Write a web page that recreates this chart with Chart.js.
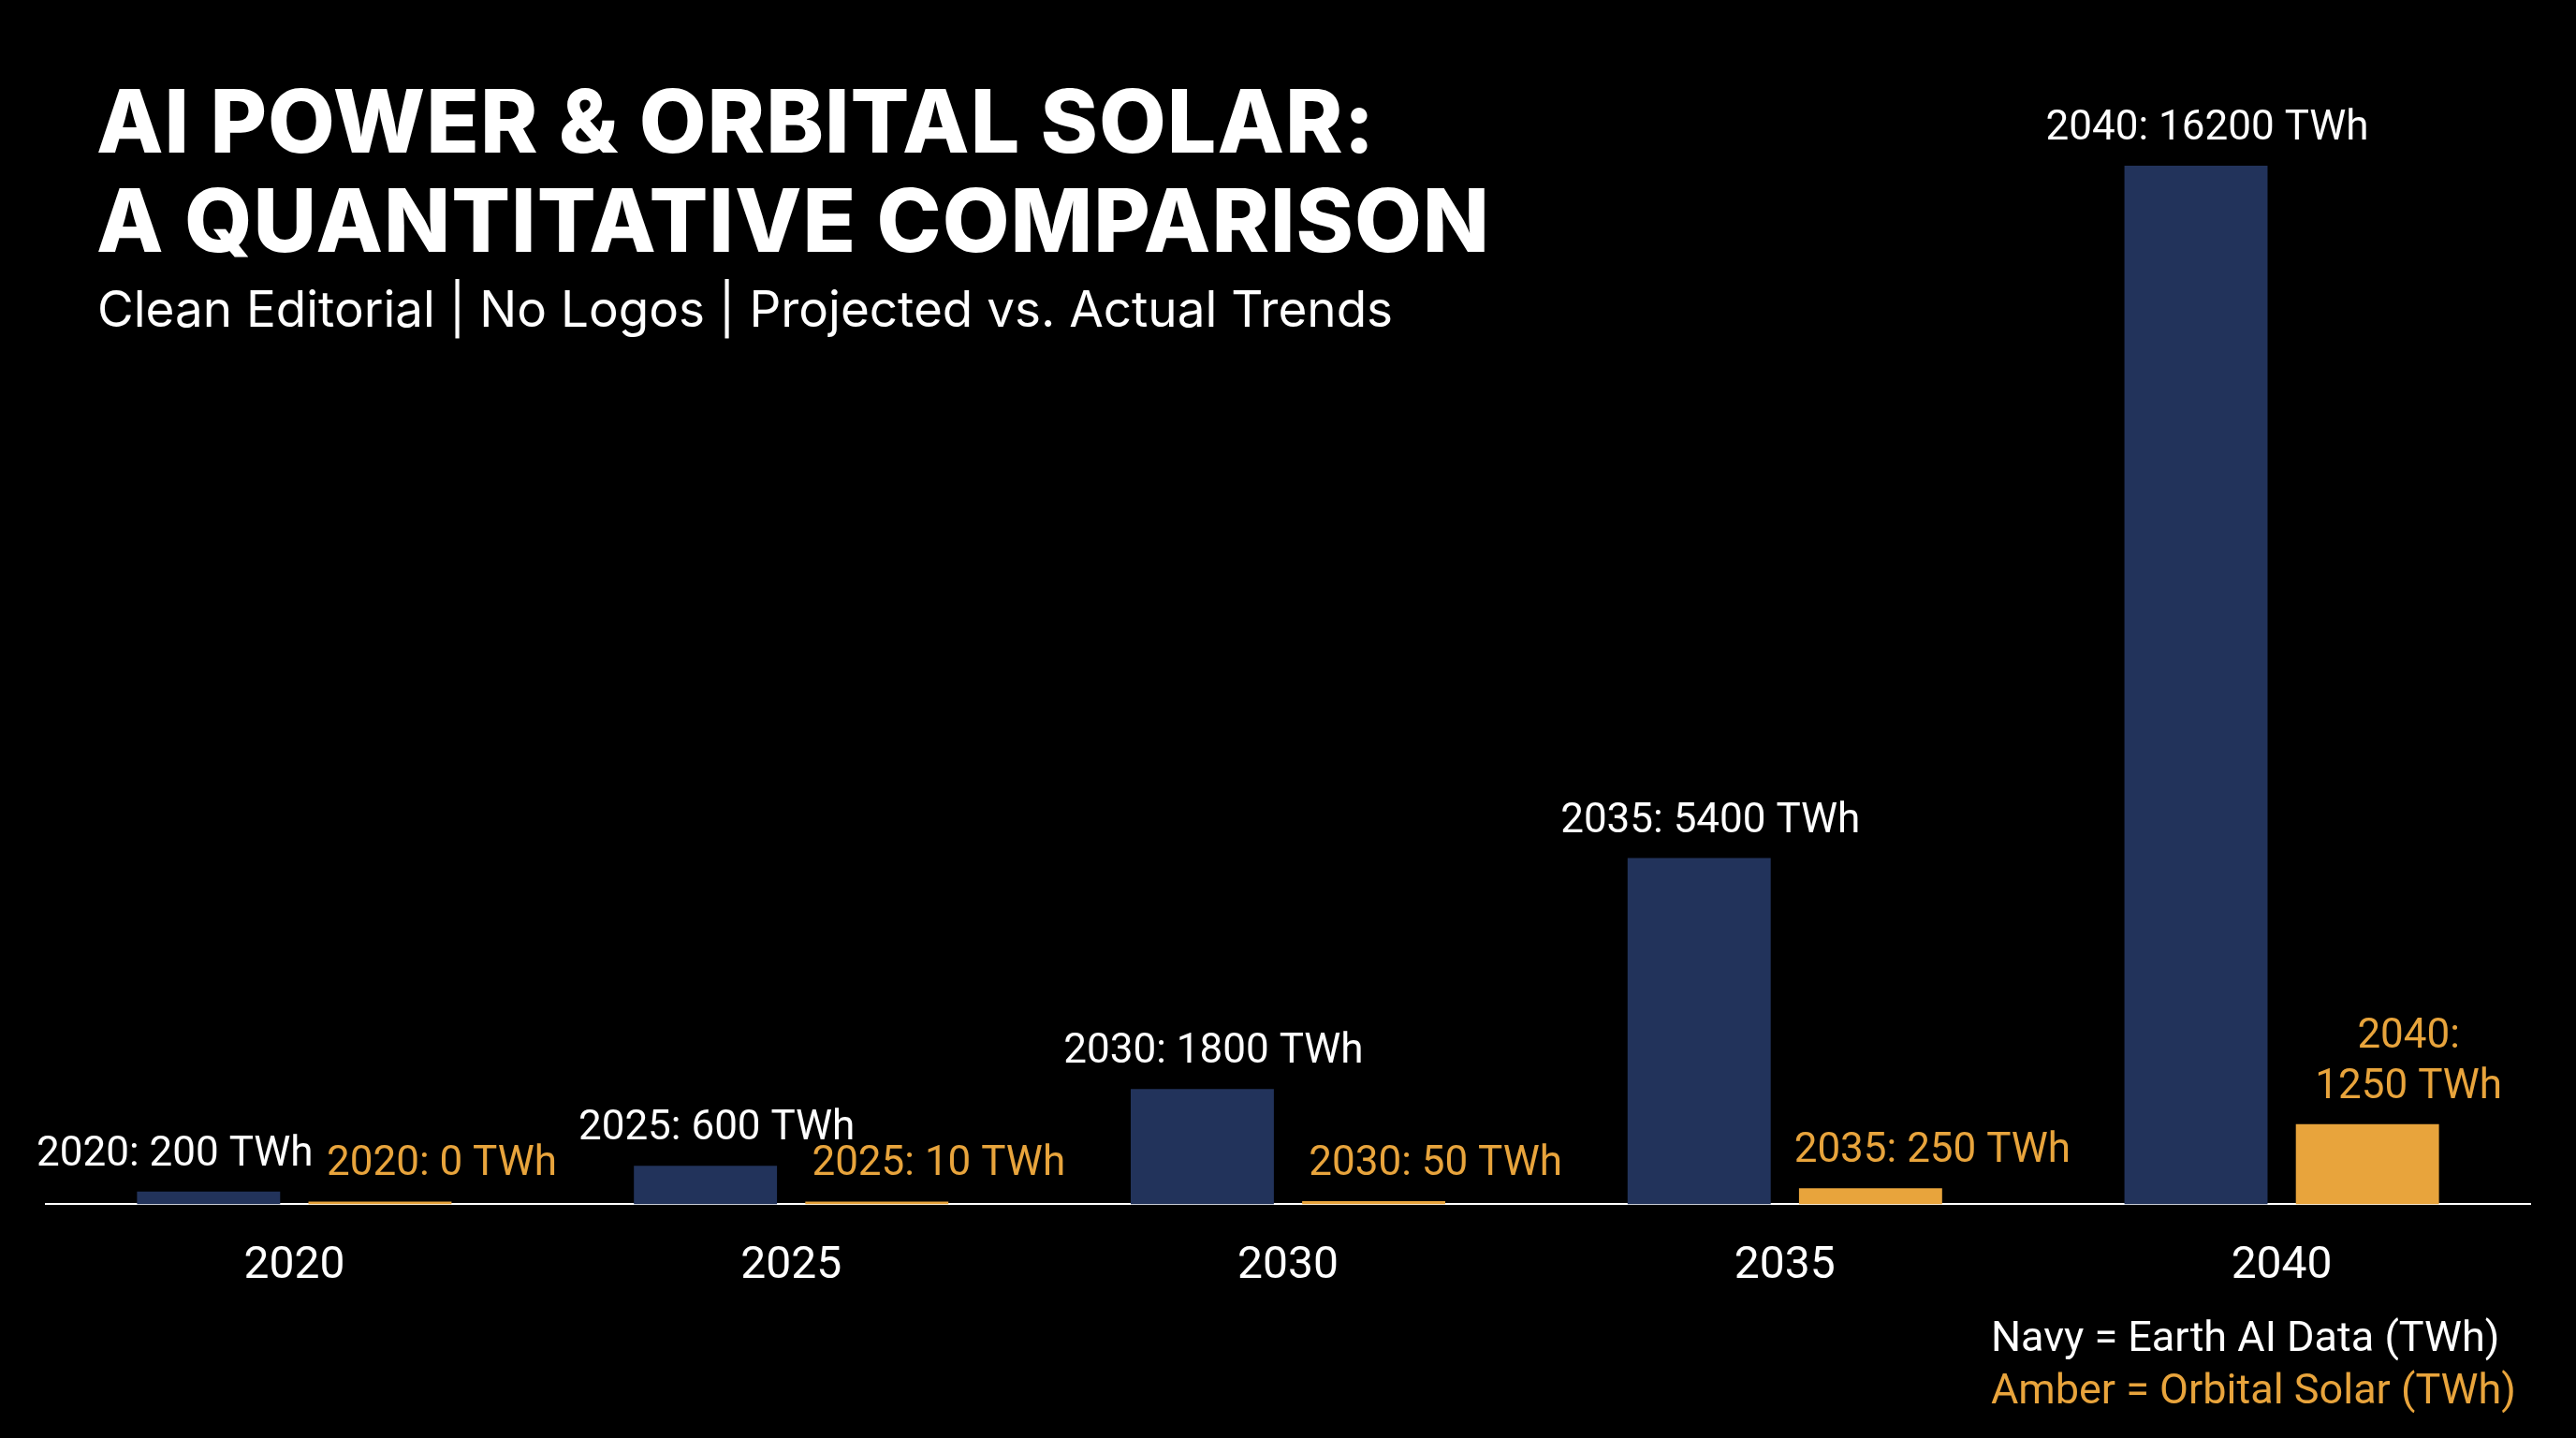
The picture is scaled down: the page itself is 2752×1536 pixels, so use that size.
<!DOCTYPE html>
<html>
<head>
<meta charset="utf-8">
<script src="https://cdn.jsdelivr.net/npm/chart.js@4"></script>
<style>
  html, body { margin: 0; background: #000; width: 2752px; height: 1536px; overflow: hidden; }
  #wrap { position: absolute; left: 0; top: 0; width: 2752px; height: 1536px; }
  .title { position: absolute; left: 103px; top: 76px; color: #fff; font-family: Inter, "Noto Sans", sans-serif;
           font-weight: 800; font-size: 93px; line-height: 106px; letter-spacing: 1px; }
  .sub { position: absolute; left: 104px; top: 298px; color: #fff; font-family: Inter, "Noto Sans", sans-serif;
         font-size: 53px; }
  .legend { position: absolute; right: 64px; top: 1400px; text-align: left; font-family: Roboto, sans-serif;
            font-size: 45px; line-height: 56px; }
</style>
</head>
<body>
<div id="wrap"><canvas id="chart" width="2752" height="1536"></canvas></div>
<div class="title">AI POWER &amp; ORBITAL SOLAR:<br>A QUANTITATIVE COMPARISON</div>
<div class="sub">Clean Editorial | No Logos | Projected vs. Actual Trends</div>
<div class="legend"><div style="color:#fff">Navy = Earth AI Data (TWh)</div><div style="color:#e8a43c">Amber = Orbital Solar (TWh)</div></div>
<script>
const years = ['2020', '2025', '2030', '2035', '2040'];
const earthAI = [200, 600, 1800, 5400, 16200];
const orbitalSolar = [0, 10, 50, 250, 1250];
const earthLabels = ['2020: 200 TWh', '2025: 600 TWh', '2030: 1800 TWh', '2035: 5400 TWh', '2040: 16200 TWh'];
const solarLabels = [['2020: 0 TWh'], ['2025: 10 TWh'], ['2030: 50 TWh'], ['2035: 250 TWh'], ['2040:', '1250 TWh']];

const NAVY = '#22335b';
const AMBER = '#e8a43c';

// value labels above bars
const barLabels = {
  id: 'barLabels',
  afterDatasetsDraw(chart) {
    const ctx = chart.ctx;
    ctx.save();
    ctx.font = '44px Roboto, sans-serif';
    ctx.textAlign = 'center';
    ctx.textBaseline = 'alphabetic';
    chart.getDatasetMeta(0).data.forEach((bar, i) => {
      ctx.fillStyle = '#fff';
      const dx = i === 0 ? -36 : 12;
      ctx.fillText(earthLabels[i], bar.x + dx, bar.y - 28);
    });
    chart.getDatasetMeta(1).data.forEach((bar, i) => {
      ctx.fillStyle = AMBER;
      const lines = solarLabels[i];
      lines.forEach((t, k) => {
        const y = bar.y - 28 - (lines.length - 1 - k) * 54;
        ctx.fillText(t, bar.x + (i === 4 ? 44 : 66), y);
      });
    });
    ctx.restore();
  }
};

new Chart(document.getElementById('chart'), {
  type: 'bar',
  data: {
    labels: years,
    datasets: [
      { label: 'Earth AI Data (TWh)', data: earthAI, backgroundColor: NAVY },
      { label: 'Orbital Solar (TWh)', data: orbitalSolar, backgroundColor: AMBER, minBarLength: 3 }
    ]
  },
  options: {
    responsive: false,
    animation: false,
    categoryPercentage: 0.69,
    barPercentage: 0.835,
    layout: { padding: { top: 177, bottom: 124, left: 49, right: 49 } },
    plugins: { legend: { display: false }, tooltip: { enabled: false } },
    scales: {
      x: {
        grid: { display: false },
        border: { color: '#ffffff', width: 2 },
        ticks: { color: '#fff', font: { family: 'Roboto, sans-serif', size: 48 }, padding: 30 }
      },
      y: { display: false, min: 0, max: 16200 }
    }
  },
  plugins: [barLabels]
});
</script>
</body>
</html>
